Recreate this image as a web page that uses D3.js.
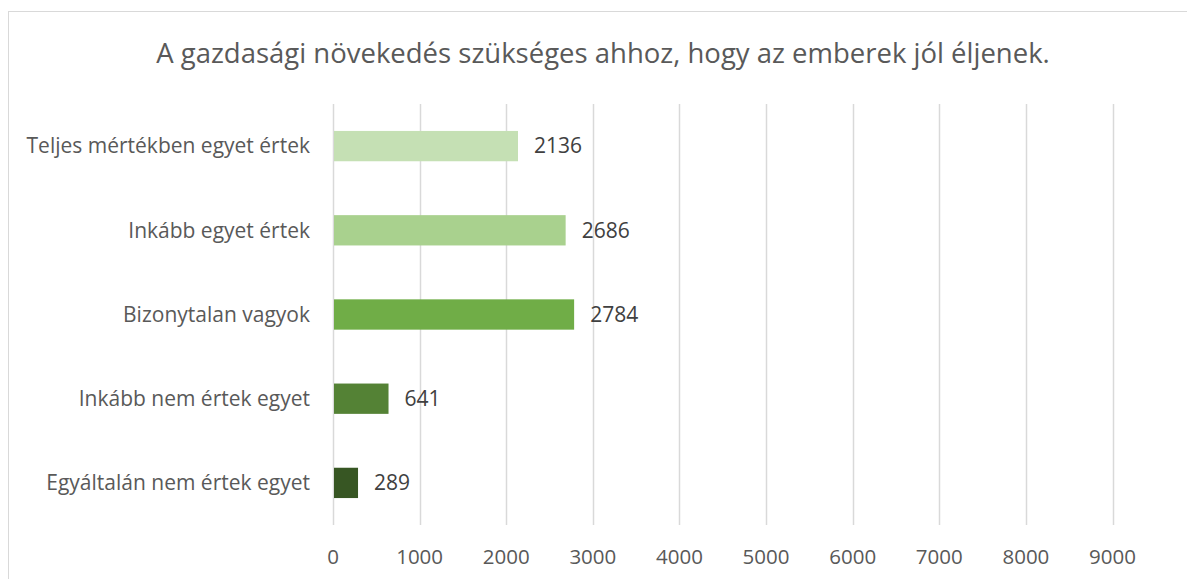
<!DOCTYPE html>
<html>
<head>
<meta charset="utf-8">
<script src="https://cdn.jsdelivr.net/npm/d3@7"></script>
<style>
  body { margin: 0; background: #fff; }
  text { font-family: "Open Sans", sans-serif; }
</style>
</head>
<body>
<script>
// chart data
var title = 'A gazdasági növekedés szükséges ahhoz, hogy az emberek jól éljenek.';
var categories = ['Teljes mértékben egyet értek', 'Inkább egyet értek', 'Bizonytalan vagyok', 'Inkább nem értek egyet', 'Egyáltalán nem értek egyet'];
var values = [2136, 2686, 2784, 641, 289];
var barColors = ['#c5e0b4', '#a9d18e', '#70ad47', '#548235', '#375623'];
var ticks = [0, 1000, 2000, 3000, 4000, 5000, 6000, 7000, 8000, 9000];

var width = 1187, height = 579;
var svg = d3.select('body').append('svg')
	.attr('width', width)
	.attr('height', height);

// chart frame
svg.append('rect')
	.attr('x', 8.5)
	.attr('y', 11.5)
	.attr('width', 1190)
	.attr('height', 600)
	.attr('fill', '#fff')
	.attr('stroke', '#d9d9d9')
	.attr('stroke-width', 1);

svg.append('text')
	.attr('x', 603)
	.attr('y', 63)
	.attr('text-anchor', 'middle')
	.attr('font-size', 27.5)
	.attr('fill', '#595959')
	.text(title);

var x = d3.scaleLinear()
	.domain([0, 9000])
	.range([333, 1112.5]);

var y = d3.scaleBand()
	.domain(categories)
	.range([104, 525])
	.paddingInner(0.64)
	.paddingOuter(0.32);

// gridlines
svg.append('g')
	.selectAll('line')
	.data(ticks)
	.enter().append('line')
	.attr('x1', function(d){ return Math.round(x(d)) + 0.5; })
	.attr('x2', function(d){ return Math.round(x(d)) + 0.5; })
	.attr('y1', 104)
	.attr('y2', 525)
	.attr('stroke', '#d9d9d9')
	.attr('stroke-width', 1.5);

// x tick labels
svg.append('g')
	.selectAll('text')
	.data(ticks)
	.enter().append('text')
	.attr('x', function(d){ return x(d); })
	.attr('y', 564)
	.attr('text-anchor', 'middle')
	.attr('font-size', 20.5)
	.attr('fill', '#595959')
	.text(function(d){ return d; });

// category labels
svg.append('g')
	.selectAll('text')
	.data(categories)
	.enter().append('text')
	.attr('x', 310)
	.attr('y', function(d){ return y(d) + y.bandwidth() / 2; })
	.attr('dy', '0.35em')
	.attr('text-anchor', 'end')
	.attr('font-size', 21)
	.attr('fill', '#595959')
	.text(function(d){ return d; });

// bars
svg.append('g')
	.selectAll('rect')
	.data(values)
	.enter().append('rect')
	.attr('x', x(0) + 1)
	.attr('y', function(d, i){ return y(categories[i]); })
	.attr('width', function(d){ return x(d) - x(0) - 1; })
	.attr('height', y.bandwidth())
	.attr('fill', function(d, i){ return barColors[i]; });

// data labels
svg.append('g')
	.selectAll('text')
	.data(values)
	.enter().append('text')
	.attr('x', function(d){ return x(d) + 16; })
	.attr('y', function(d, i){ return y(categories[i]) + y.bandwidth() / 2; })
	.attr('dy', '0.35em')
	.attr('font-size', 21)
	.attr('fill', '#404040')
	.text(function(d){ return d; });
</script>
</body>
</html>
